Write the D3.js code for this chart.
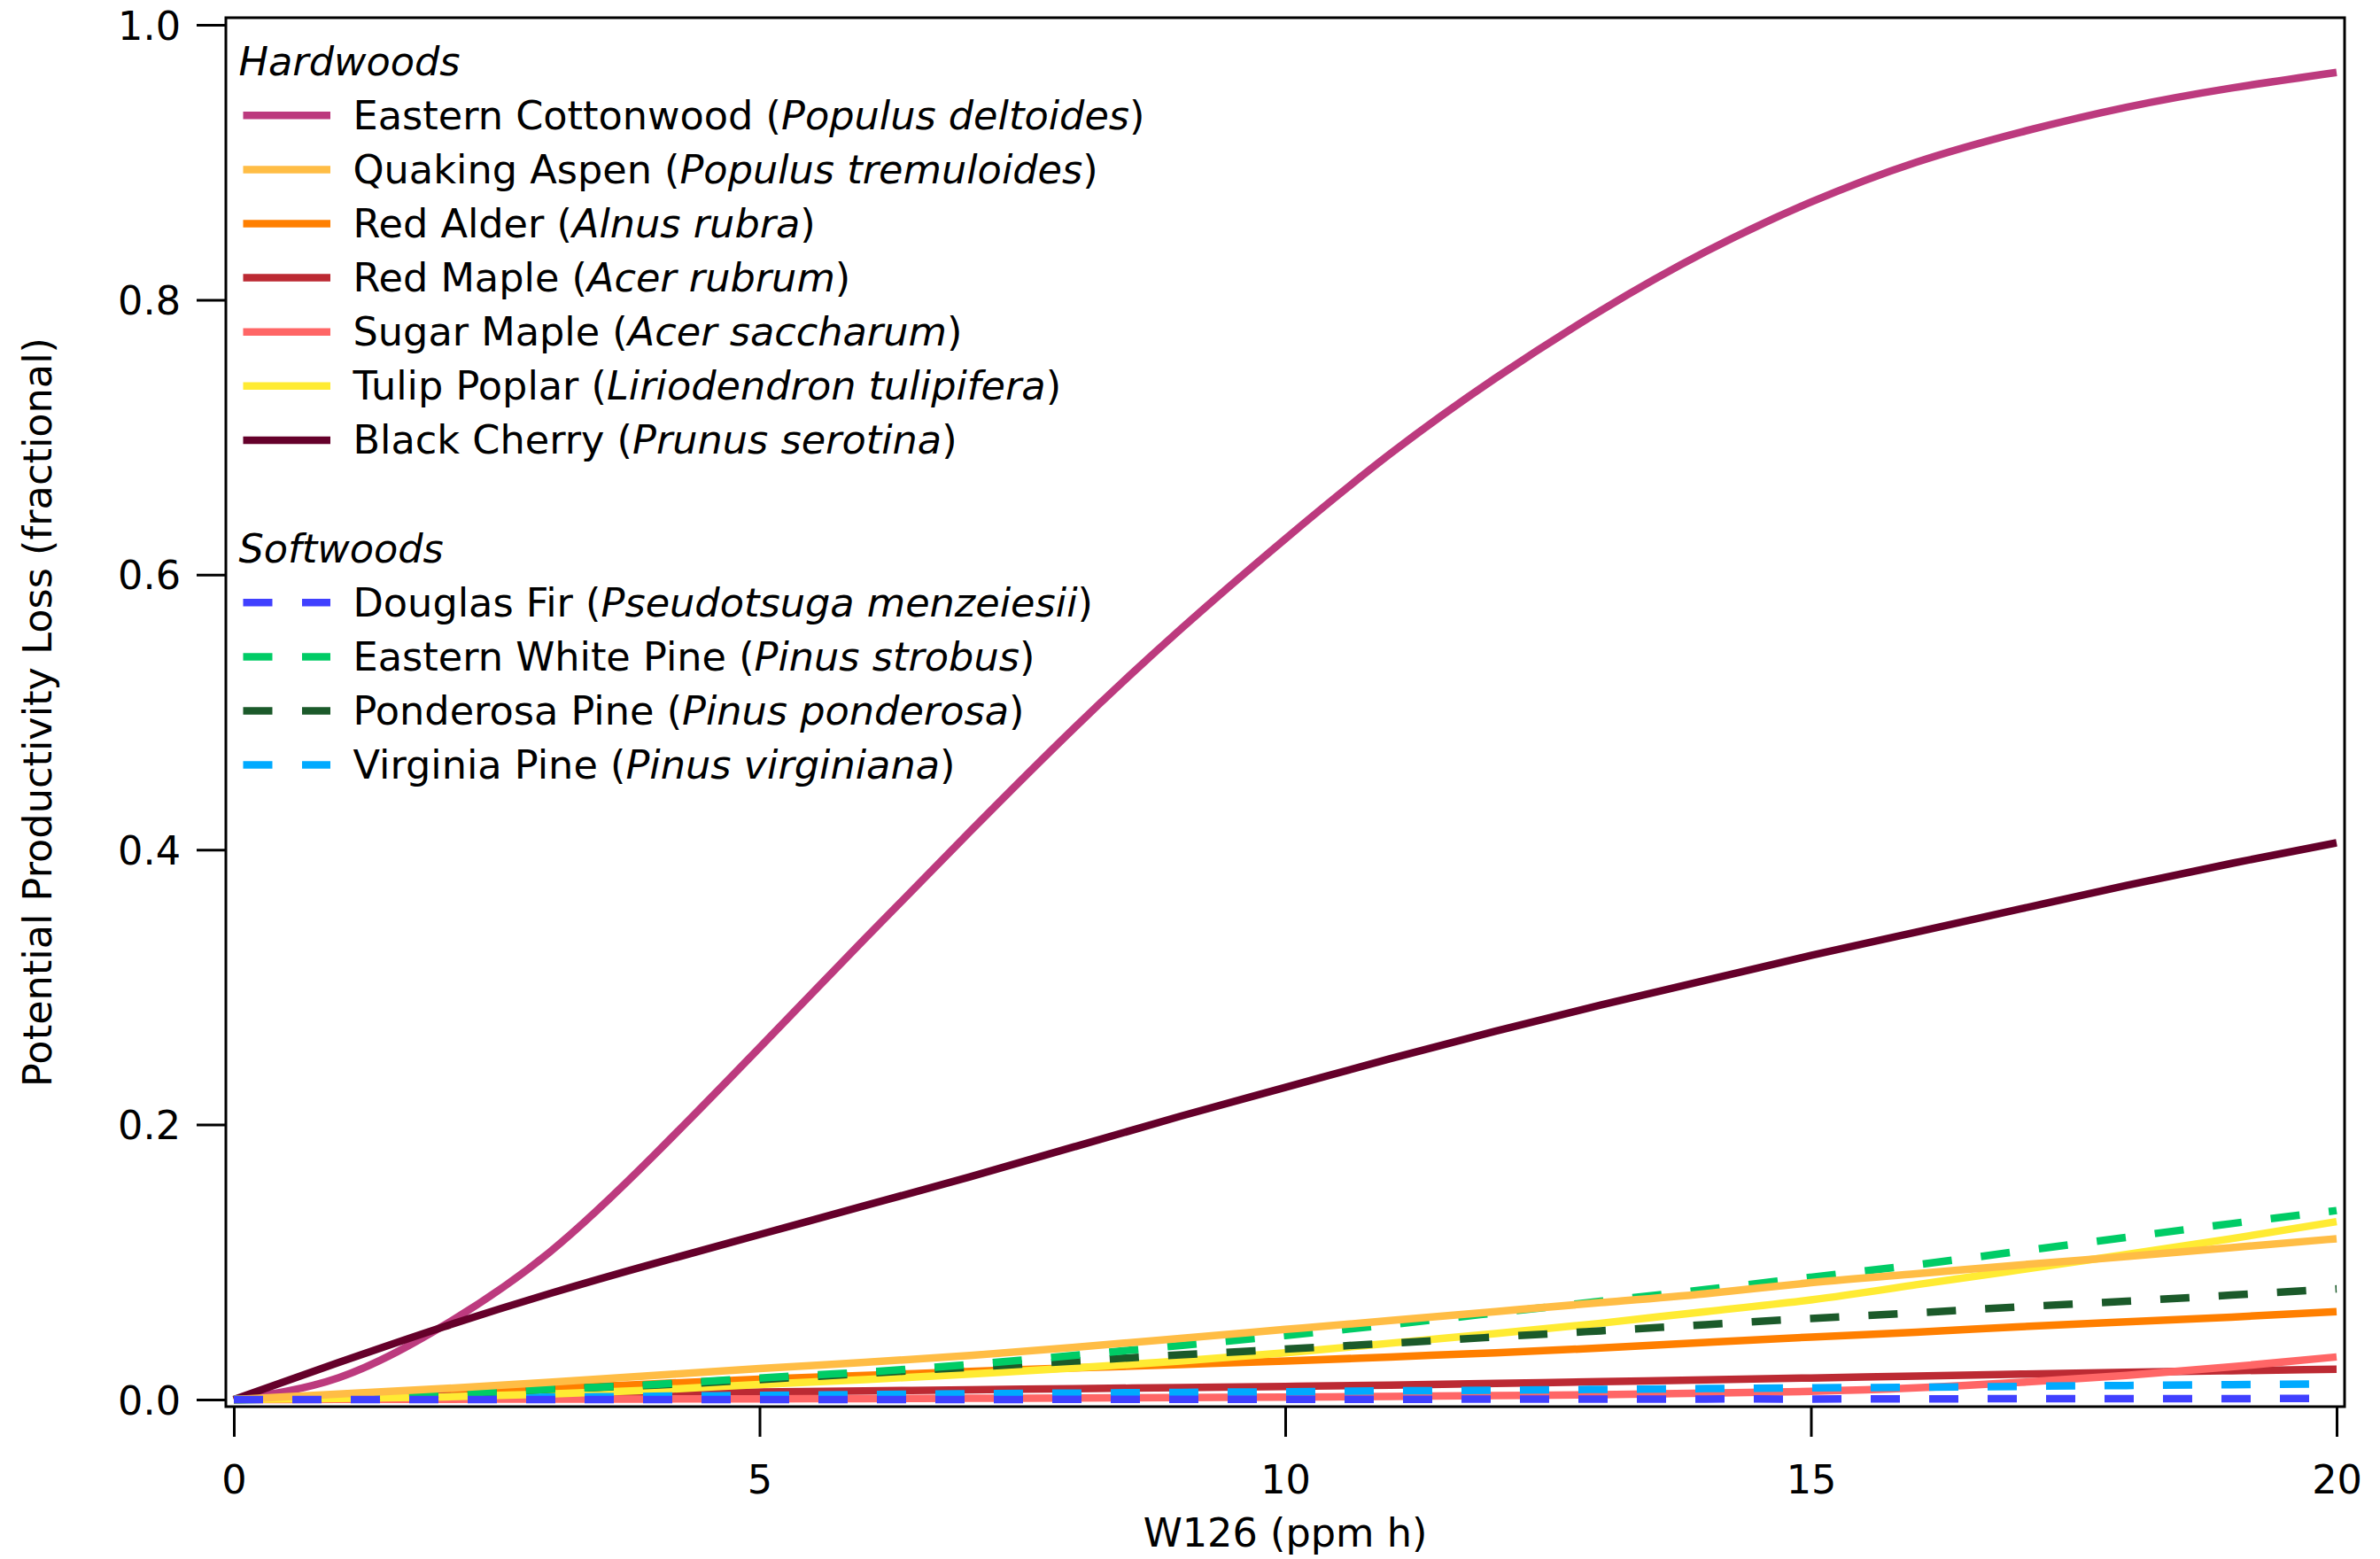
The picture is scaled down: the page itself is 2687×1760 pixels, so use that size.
<!DOCTYPE html>
<html>
<head>
<meta charset="utf-8">
<script src="https://cdn.jsdelivr.net/npm/d3@7"></script>
<style>
  html, body { margin: 0; padding: 0; background: #fff; }
  svg { display: block; }
  text { font-family: "DejaVu Sans", "Verdana", sans-serif; fill: #000; }
</style>
</head>
<body>
<svg id="chart" width="2687" height="1760"></svg>
<script>
// ---------------- data ----------------
const w126 = [0,1,2,3,4,5,6,7,8,9,10,11,12,13,14,15,16,17,18,19,20];

const easternCottonwood = [0,0.016,0.054,0.107,0.178,0.256,0.335,0.413,0.489,0.560,0.626,0.688,0.743,0.792,0.835,0.871,0.900,0.922,0.940,0.954,0.9654];
const quakingAspen      = [0,0.004,0.008,0.0125,0.0175,0.0226,0.027,0.032,0.038,0.0445,0.051,0.0575,0.064,0.0705,0.077,0.085,0.0915,0.098,0.104,0.1105,0.117];
const redAlder          = [0,0.002,0.005,0.008,0.0115,0.0148,0.0175,0.0205,0.023,0.0255,0.028,0.031,0.034,0.0375,0.0415,0.0455,0.049,0.053,0.0565,0.060,0.064];
const redMaple          = [0,0.0012,0.0024,0.0035,0.0045,0.0055,0.0063,0.0071,0.0079,0.0087,0.0095,0.0105,0.0117,0.013,0.0143,0.0157,0.0171,0.0185,0.0198,0.021,0.022];
const sugarMaple        = [0,0.0001,0.0002,0.0003,0.0004,0.0005,0.0007,0.0009,0.0011,0.0014,0.0018,0.0023,0.0029,0.0036,0.0046,0.006,0.0085,0.0125,0.0176,0.0238,0.031];
const tulipPoplar       = [0,0.0008,0.002,0.004,0.007,0.011,0.0145,0.0185,0.023,0.028,0.034,0.041,0.048,0.0555,0.064,0.0725,0.0835,0.0945,0.1055,0.117,0.1294];
const blackCherry       = [0,0.027,0.053,0.077,0.099,0.120,0.141,0.162,0.184,0.206,0.227,0.248,0.268,0.287,0.305,0.323,0.340,0.357,0.374,0.390,0.405];
const douglasFir        = [0,0,0,0,0,0,0,0,0.0001,0.0001,0.0002,0.0002,0.0003,0.0003,0.0004,0.0004,0.0005,0.0006,0.0006,0.0007,0.0008];
const easternWhitePine  = [0,0.001,0.004,0.0075,0.011,0.0157,0.020,0.0255,0.0322,0.0393,0.0466,0.0545,0.063,0.0715,0.080,0.089,0.098,0.108,0.118,0.128,0.1375];
const ponderosaPine     = [0,0.0012,0.004,0.0075,0.0105,0.0145,0.019,0.0235,0.028,0.0325,0.0367,0.041,0.0455,0.050,0.0545,0.059,0.063,0.0675,0.0715,0.076,0.0805];
const virginiaPine      = [0,0.0006,0.0012,0.0018,0.0024,0.003,0.0036,0.0042,0.0047,0.0052,0.0057,0.0063,0.0068,0.0074,0.008,0.0085,0.009,0.0096,0.0102,0.0108,0.0114];

const hardwoodNames = [
  ["Eastern Cottonwood", "Populus deltoides"],
  ["Quaking Aspen", "Populus tremuloides"],
  ["Red Alder", "Alnus rubra"],
  ["Red Maple", "Acer rubrum"],
  ["Sugar Maple", "Acer saccharum"],
  ["Tulip Poplar", "Liriodendron tulipifera"],
  ["Black Cherry", "Prunus serotina"]
];
const softwoodNames = [
  ["Douglas Fir", "Pseudotsuga menzeiesii"],
  ["Eastern White Pine", "Pinus strobus"],
  ["Ponderosa Pine", "Pinus ponderosa"],
  ["Virginia Pine", "Pinus virginiana"]
];
const hardwoodValues = [easternCottonwood, quakingAspen, redAlder, redMaple, sugarMaple, tulipPoplar, blackCherry];
const softwoodValues = [douglasFir, easternWhitePine, ponderosaPine, virginiaPine];
const hardwoodColors = ["#BC3A7E", "#FFBD45", "#FF7F00", "#BC2A33", "#FF6666", "#FFEB33", "#65002A"];
const softwoodColors = ["#4040FF", "#00CC66", "#1B5A2A", "#00AAFF"];

const xTickValues = [0, 5, 10, 15, 20];
const yTickValues = [0, 0.2, 0.4, 0.6, 0.8, 1.0];
const xTitle = "W126 (ppm h)";
const yTitle = "Potential Productivity Loss (fractional)";

// ---------------- layout ----------------
const FONT = 44.6;
const frame = { left: 255, top: 20, right: 2647, bottom: 1588 };
const x = d3.scaleLinear().domain([0, 20]).range([264, 2638]);
const y = d3.scaleLinear().domain([0, 1]).range([1580, 28]);

const svg = d3.select("#chart");

const series = [];
hardwoodNames.forEach((n, i) => series.push({ name: n[0], latin: n[1], values: hardwoodValues[i], color: hardwoodColors[i], dashed: false, group: "h" }));
softwoodNames.forEach((n, i) => series.push({ name: n[0], latin: n[1], values: softwoodValues[i], color: softwoodColors[i], dashed: true, group: "s" }));

// draw order (which lines sit on top)
const drawOrder = ["Eastern Cottonwood", "Black Cherry", "Red Alder", "Red Maple", "Sugar Maple", "Tulip Poplar",
                   "Virginia Pine", "Ponderosa Pine", "Eastern White Pine", "Quaking Aspen", "Douglas Fir"];

const line = d3.line()
  .x((d, i) => x(w126[i]))
  .y(d => y(d))
  .curve(d3.curveNatural);

const gLines = svg.append("g");
drawOrder.forEach(nm => {
  const s = series.find(t => t.name === nm);
  gLines.append("path")
    .attr("d", line(s.values))
    .attr("fill", "none")
    .attr("stroke", s.color)
    .attr("stroke-width", 8.5)
    .attr("stroke-linecap", "butt")
    .attr("stroke-linejoin", "round")
    .attr("stroke-dasharray", s.dashed ? "33,33" : null);
});

// frame
svg.append("rect")
  .attr("x", frame.left).attr("y", frame.top)
  .attr("width", frame.right - frame.left).attr("height", frame.bottom - frame.top)
  .attr("fill", "none").attr("stroke", "#000").attr("stroke-width", 3);

// y axis
const yAxis = d3.axisLeft(y).tickValues(yTickValues).tickFormat(d3.format(".1f")).tickSize(33).tickPadding(18);
const gy = svg.append("g").attr("transform", `translate(${frame.left},0)`).call(yAxis);
gy.select(".domain").remove();
gy.selectAll(".tick line").attr("stroke", "#000").attr("stroke-width", 3);
gy.selectAll(".tick text").attr("font-size", FONT).attr("font-family", "DejaVu Sans").attr("dy", "0.36em");

// x axis
const xAxis = d3.axisBottom(x).tickValues(xTickValues).tickFormat(d3.format("d")).tickSize(34);
const gx = svg.append("g").attr("transform", `translate(0,${frame.bottom})`).call(xAxis);
gx.select(".domain").remove();
gx.selectAll(".tick line").attr("stroke", "#000").attr("stroke-width", 3);
gx.selectAll(".tick text").attr("font-size", FONT).attr("font-family", "DejaVu Sans").attr("y", 98).attr("dy", 0);

// axis titles
svg.append("text")
  .attr("x", (x(0) + x(20)) / 2).attr("y", 1746)
  .attr("text-anchor", "middle").attr("font-size", FONT)
  .text(xTitle);

svg.append("text")
  .attr("transform", `translate(58,${(y(0) + y(1)) / 2}) rotate(-90)`)
  .attr("text-anchor", "middle").attr("font-size", FONT)
  .text(yTitle);

// legend
const leg = svg.append("g");
const sampleX0 = 274.5, sampleX1 = 373, textX = 398.5, rowH = 61.1;

function legendBlock(title, titleBaseline, items) {
  leg.append("text").attr("x", 269.5).attr("y", titleBaseline)
    .attr("font-size", FONT).attr("font-style", "italic").text(title);
  items.forEach((s, i) => {
    const cy = titleBaseline + 45.3 + i * rowH;
    leg.append("line")
      .attr("x1", sampleX0).attr("x2", sampleX1).attr("y1", cy).attr("y2", cy)
      .attr("stroke", s.color).attr("stroke-width", 8.5)
      .attr("stroke-dasharray", s.dashed ? "33,33.5" : null);
    const t = leg.append("text").attr("x", textX).attr("y", cy + 15.5).attr("font-size", FONT);
    t.append("tspan").text(s.name + " (");
    t.append("tspan").attr("font-style", "italic").text(s.latin);
    t.append("tspan").text(")");
  });
}
legendBlock("Hardwoods", 85, series.filter(s => s.group === "h"));
legendBlock("Softwoods", 635, series.filter(s => s.group === "s"));
</script>
</body>
</html>
